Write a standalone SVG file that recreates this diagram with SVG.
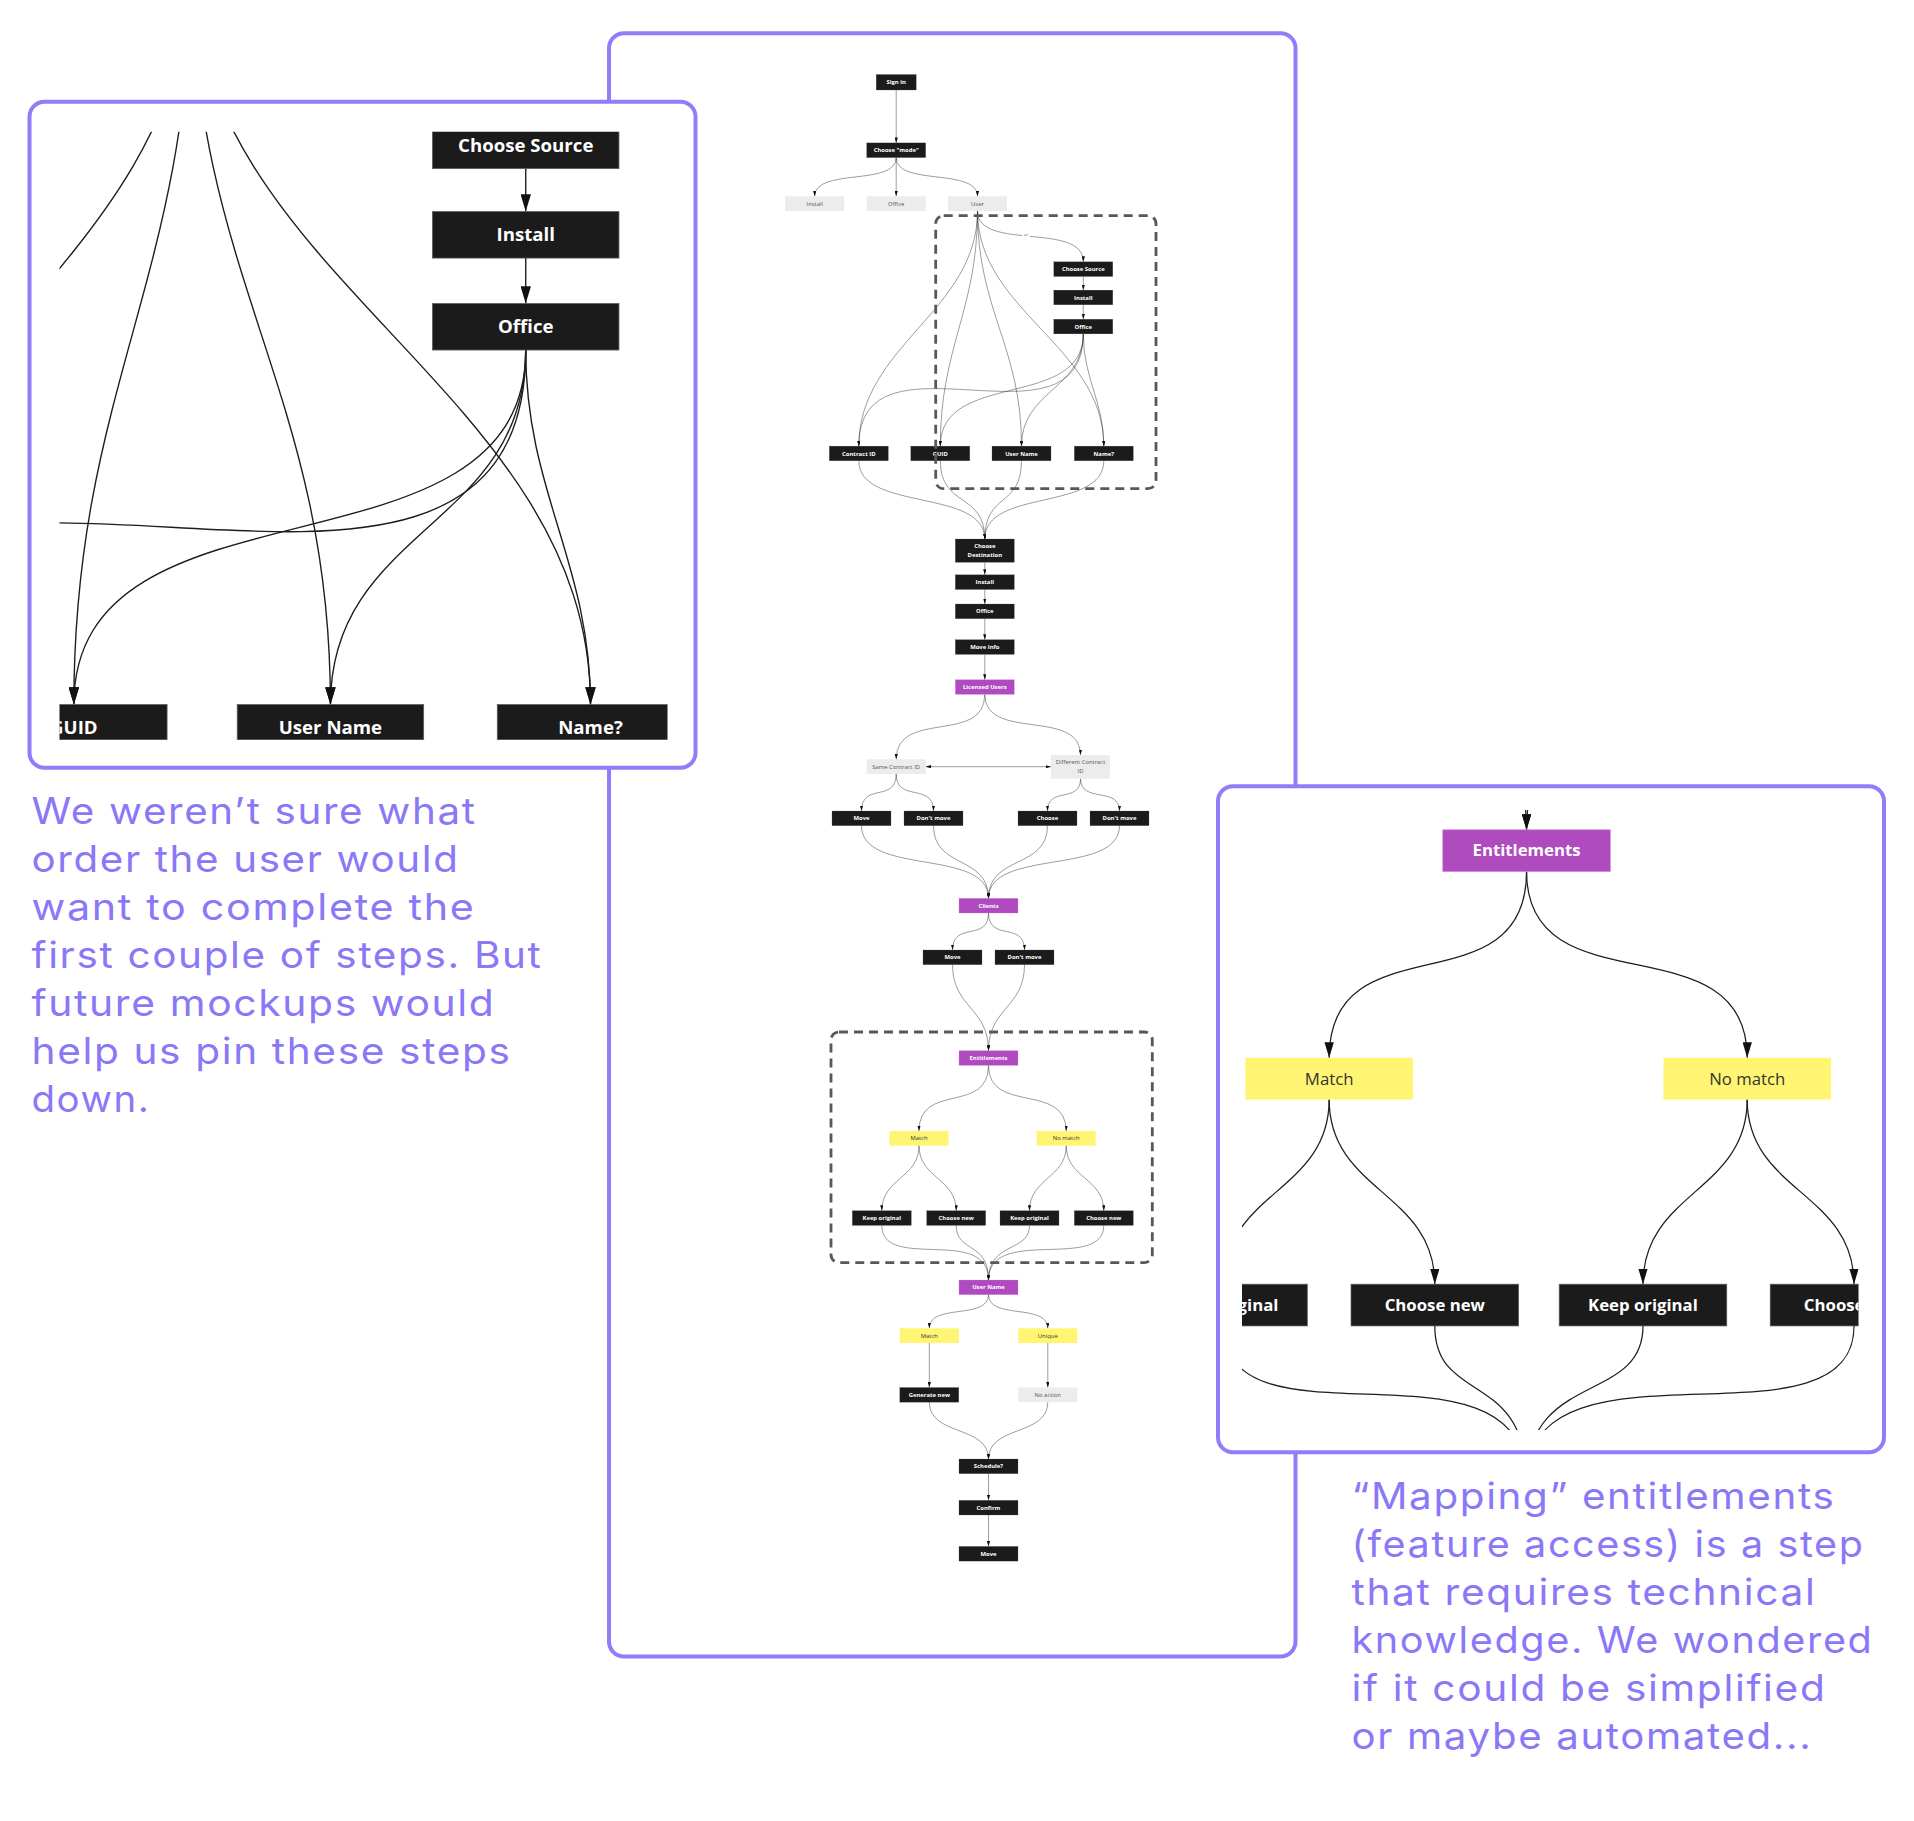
<svg xmlns="http://www.w3.org/2000/svg" xmlns:xlink="http://www.w3.org/1999/xlink" width="1914" height="1821" viewBox="0 0 1914 1821">
<style>
.panel{fill:#fff;stroke:#8f7df9;stroke-width:4}
.dash{fill:none;stroke:#585858;stroke-width:2.8;stroke-dasharray:9 6}
.cn{fill:none;stroke:#1e1e1e;stroke-width:0.44;marker-end:url(#ah)}
.dk{fill:#1b1b1b;stroke:#5a5a5a;stroke-width:0.25}
.gy{fill:#ececec}
.yl{fill:#fff572}
.pu{fill:#af4bbf;stroke:#cf8add;stroke-width:0.25}
text.tw{font-family:"Open Sans","Liberation Sans",sans-serif;font-size:5.9px;font-weight:700;fill:#fff;text-anchor:middle}
text.tg{font-family:"Open Sans","Liberation Sans",sans-serif;font-size:5.9px;font-weight:400;fill:#555;text-anchor:middle}
text.ty{font-family:"Open Sans","Liberation Sans",sans-serif;font-size:5.9px;font-weight:400;fill:#333;text-anchor:middle}
text.note{font-family:Inter,"Open Sans","Liberation Sans",sans-serif;font-size:37px;font-weight:400;fill:#8a78f7;letter-spacing:1.5px}
</style>
<defs>
<marker id="ah" viewBox="0 0 10 6" refX="10" refY="3" markerWidth="5.5" markerHeight="3.3" markerUnits="userSpaceOnUse" orient="auto-start-reverse"><path d="M0,0L10,3L0,6z" fill="#111"/></marker>
<clipPath id="clipL"><rect x="59.5" y="131.7" width="608" height="608"/></clipPath>
<clipPath id="clipR"><rect x="1242" y="810" width="616.5" height="620"/></clipPath>
</defs>
<rect width="1914" height="1821" fill="#fff"/>

<rect id="panel-center" class="panel" x="609" y="33.3" width="686.5" height="1623.2" rx="15"/>

<g id="chart">
<g id="connectors">
<path class="cn" d="M896.2,90 V142.9"/>
<path class="cn" d="M896.2,157.6 C896.2,186.6 814.7,167.3 814.7,196.3"/>
<path class="cn" d="M896.2,157.6 V196.3"/>
<path class="cn" d="M896.2,157.6 C896.2,186.6 977.5,167.3 977.5,196.3"/>
<path class="cn" d="M977.5,211 C977.5,251.6 1083.3,221.2 1083.3,261.8"/>
<path class="cn" d="M977.5,211 C977.5,311 858.8,346.1 858.8,446.1"/>
<path class="cn" d="M977.5,211 C977.5,311 940.3,346.1 940.3,446.1"/>
<path class="cn" d="M977.5,211 C977.5,311 1021.5,346.1 1021.5,446.1"/>
<path class="cn" d="M977.5,211 C977.5,311 1103.8,346.1 1103.8,446.1"/>
<path class="cn" d="M1083.3,276.5 V290.1"/>
<path class="cn" d="M1083.3,304.8 V319.2"/>
<path class="cn" d="M1083.3,333.9 C1083.3,458.9 858.8,321.1 858.8,446.1"/>
<path class="cn" d="M1083.3,333.9 C1083.3,410.2 940.3,369.8 940.3,446.1"/>
<path class="cn" d="M1083.3,333.9 C1083.3,390 1021.5,390 1021.5,446.1"/>
<path class="cn" d="M1083.3,333.9 C1083.3,379 1103.8,401 1103.8,446.1"/>
<path class="cn" d="M858.8,460.8 C858.8,511.8 984.8,488 984.8,539"/>
<path class="cn" d="M940.3,460.8 C940.3,507.8 984.8,492 984.8,539"/>
<path class="cn" d="M1021.5,460.8 C1021.5,507.8 984.8,492 984.8,539"/>
<path class="cn" d="M1103.8,460.8 C1103.8,511.8 984.8,488 984.8,539"/>
<path class="cn" d="M984.8,562.3 V574.8"/>
<path class="cn" d="M984.8,589.5 V604"/>
<path class="cn" d="M984.8,618.7 V639.7"/>
<path class="cn" d="M984.8,654.4 V679.7"/>
<path class="cn" d="M984.8,694.4 C984.8,745 896.2,708.7 896.2,759.3"/>
<path class="cn" d="M984.8,694.4 C984.8,742 1080.5,707.4 1080.5,755"/>
<path class="cn" d="M925.7,766.7 H1051" marker-start="url(#ah)"/>
<path class="cn" d="M896.2,774 C896.2,803 861.5,782 861.5,811"/>
<path class="cn" d="M896.2,774 C896.2,803 933.5,782 933.5,811"/>
<path class="cn" d="M1080.5,778.7 C1080.5,803.7 1047.5,786 1047.5,811"/>
<path class="cn" d="M1080.5,778.7 C1080.5,803.7 1119.5,786 1119.5,811"/>
<path class="cn" d="M861.5,825.7 C861.5,876.5 988.5,847.5 988.5,898.3"/>
<path class="cn" d="M933.5,825.7 C933.5,869.3 988.5,854.7 988.5,898.3"/>
<path class="cn" d="M1047.5,825.7 C1047.5,869.3 988.5,854.7 988.5,898.3"/>
<path class="cn" d="M1119.5,825.7 C1119.5,876.5 988.5,847.5 988.5,898.3"/>
<path class="cn" d="M988.5,913 C988.5,942 952.5,921 952.5,950"/>
<path class="cn" d="M988.5,913 C988.5,942 1024.5,921 1024.5,950"/>
<path class="cn" d="M952.5,964.7 C952.5,1007.7 988.5,1007.7 988.5,1050.7"/>
<path class="cn" d="M1024.5,964.7 C1024.5,1007.7 988.5,1007.7 988.5,1050.7"/>
<path class="cn" d="M988.5,1065.4 C988.5,1114.6 919,1081.8 919,1131"/>
<path class="cn" d="M988.5,1065.4 C988.5,1114.6 1066.2,1081.8 1066.2,1131"/>
<path class="cn" d="M919,1145.7 C919,1178.2 881.8,1178.2 881.8,1210.7"/>
<path class="cn" d="M919,1145.7 C919,1178.2 956.2,1178.2 956.2,1210.7"/>
<path class="cn" d="M1066.2,1145.7 C1066.2,1178.2 1029.5,1178.2 1029.5,1210.7"/>
<path class="cn" d="M1066.2,1145.7 C1066.2,1178.2 1103.8,1178.2 1103.8,1210.7"/>
<path class="cn" d="M881.8,1225.4 C881.8,1272 988.5,1225 988.5,1280"/>
<path class="cn" d="M956.2,1225.4 C956.2,1253 988.5,1241 988.5,1280"/>
<path class="cn" d="M1029.5,1225.4 C1029.5,1253 988.5,1241 988.5,1280"/>
<path class="cn" d="M1103.8,1225.4 C1103.8,1272 988.5,1225 988.5,1280"/>
<path class="cn" d="M988.5,1294.7 C988.5,1320.2 929.3,1302.8 929.3,1328.3"/>
<path class="cn" d="M988.5,1294.7 C988.5,1320.2 1047.8,1302.8 1047.8,1328.3"/>
<path class="cn" d="M929.3,1343 V1387.5"/>
<path class="cn" d="M1047.8,1343 V1387.5"/>
<path class="cn" d="M929.3,1402.2 C929.3,1436.2 988.5,1425 988.5,1459"/>
<path class="cn" d="M1047.8,1402.2 C1047.8,1436.2 988.5,1425 988.5,1459"/>
<path class="cn" d="M988.5,1473.7 V1500.3"/>
<path class="cn" d="M988.5,1515 V1546.4"/>
<g id="label-or"><rect x="1022.3" y="232.6" width="7.4" height="4.8" fill="#fff"/><text class="tg" x="1026" y="236.4" style="font-size:4.2px">or</text></g>
</g>
<g id="nodes">
<g id="n-signin"><rect class="dk" x="876.2" y="74.5" width="40" height="15.5"/><text class="tw" x="896.2" y="84.3">Sign in</text></g>
<g id="n-mode"><rect class="dk" x="866.7" y="142.9" width="59" height="14.7"/><text class="tw" x="896.2" y="152.3">Choose "mode"</text></g>
<g id="n-install0"><rect class="gy" x="785.2" y="196.3" width="59" height="14.7"/><text class="tg" x="814.7" y="205.7">Install</text></g>
<g id="n-office0"><rect class="gy" x="866.7" y="196.3" width="59" height="14.7"/><text class="tg" x="896.2" y="205.7">Office</text></g>
<g id="n-user0"><rect class="gy" x="948" y="196.3" width="59" height="14.7"/><text class="tg" x="977.5" y="205.7">User</text></g>
<g id="n-source"><rect class="dk" x="1053.8" y="261.8" width="59" height="14.7"/><text class="tw" x="1083.3" y="271.2">Choose Source</text></g>
<g id="n-install1"><rect class="dk" x="1053.8" y="290.1" width="59" height="14.7"/><text class="tw" x="1083.3" y="299.5">Install</text></g>
<g id="n-office1"><rect class="dk" x="1053.8" y="319.2" width="59" height="14.7"/><text class="tw" x="1083.3" y="328.6">Office</text></g>
<g id="n-contract"><rect class="dk" x="829.3" y="446.1" width="59" height="14.7"/><text class="tw" x="858.8" y="455.5">Contract ID</text></g>
<g id="n-guid"><rect class="dk" x="910.8" y="446.1" width="59" height="14.7"/><text class="tw" x="940.3" y="455.5">GUID</text></g>
<g id="n-username"><rect class="dk" x="992" y="446.1" width="59" height="14.7"/><text class="tw" x="1021.5" y="455.5">User Name</text></g>
<g id="n-name"><rect class="dk" x="1074.3" y="446.1" width="59" height="14.7"/><text class="tw" x="1103.8" y="455.5">Name?</text></g>
<g id="n-dest"><rect class="dk" x="955.3" y="539" width="59" height="23.3"/><text class="tw" x="984.8" y="548.4">Choose</text><text class="tw" x="984.8" y="556.8">Destination</text></g>
<g id="n-install2"><rect class="dk" x="955.3" y="574.8" width="59" height="14.7"/><text class="tw" x="984.8" y="584.2">Install</text></g>
<g id="n-office2"><rect class="dk" x="955.3" y="604" width="59" height="14.7"/><text class="tw" x="984.8" y="613.4">Office</text></g>
<g id="n-moveinfo"><rect class="dk" x="955.3" y="639.7" width="59" height="14.7"/><text class="tw" x="984.8" y="649.1">Move Info</text></g>
<g id="n-licensed"><rect class="pu" x="955.3" y="679.7" width="59" height="14.7"/><text class="tw" x="984.8" y="689.1">Licensed Users</text></g>
<g id="n-same"><rect class="gy" x="866.7" y="759.3" width="59" height="14.7"/><text class="tg" x="896.2" y="768.7">Same Contract ID</text></g>
<g id="n-diff"><rect class="gy" x="1051" y="755" width="59" height="23.7"/><text class="tg" x="1080.5" y="764.4">Different Contract</text><text class="tg" x="1080.5" y="773.1">ID</text></g>
<g id="n-move1"><rect class="dk" x="832" y="811" width="59" height="14.7"/><text class="tw" x="861.5" y="820.4">Move</text></g>
<g id="n-dontmove1"><rect class="dk" x="904" y="811" width="59" height="14.7"/><text class="tw" x="933.5" y="820.4">Don't move</text></g>
<g id="n-choose"><rect class="dk" x="1018" y="811" width="59" height="14.7"/><text class="tw" x="1047.5" y="820.4">Choose</text></g>
<g id="n-dontmove2"><rect class="dk" x="1090" y="811" width="59" height="14.7"/><text class="tw" x="1119.5" y="820.4">Don't move</text></g>
<g id="n-clients"><rect class="pu" x="959" y="898.3" width="59" height="14.7"/><text class="tw" x="988.5" y="907.7">Clients</text></g>
<g id="n-move2"><rect class="dk" x="923" y="950" width="59" height="14.7"/><text class="tw" x="952.5" y="959.4">Move</text></g>
<g id="n-dontmove3"><rect class="dk" x="995" y="950" width="59" height="14.7"/><text class="tw" x="1024.5" y="959.4">Don't move</text></g>
<g id="n-entitlements"><rect class="pu" x="959" y="1050.7" width="59" height="14.7"/><text class="tw" x="988.5" y="1060.1">Entitlements</text></g>
<g id="n-match1"><rect class="yl" x="889.5" y="1131" width="59" height="14.7"/><text class="ty" x="919" y="1140.4">Match</text></g>
<g id="n-nomatch"><rect class="yl" x="1036.7" y="1131" width="59" height="14.7"/><text class="ty" x="1066.2" y="1140.4">No match</text></g>
<g id="n-keep1"><rect class="dk" x="852.3" y="1210.7" width="59" height="14.7"/><text class="tw" x="881.8" y="1220.1">Keep original</text></g>
<g id="n-new1"><rect class="dk" x="926.7" y="1210.7" width="59" height="14.7"/><text class="tw" x="956.2" y="1220.1">Choose new</text></g>
<g id="n-keep2"><rect class="dk" x="1000" y="1210.7" width="59" height="14.7"/><text class="tw" x="1029.5" y="1220.1">Keep original</text></g>
<g id="n-new2"><rect class="dk" x="1074.3" y="1210.7" width="59" height="14.7"/><text class="tw" x="1103.8" y="1220.1">Choose new</text></g>
<g id="n-username2"><rect class="pu" x="959" y="1280" width="59" height="14.7"/><text class="tw" x="988.5" y="1289.4">User Name</text></g>
<g id="n-match2"><rect class="yl" x="899.8" y="1328.3" width="59" height="14.7"/><text class="ty" x="929.3" y="1337.7">Match</text></g>
<g id="n-unique"><rect class="yl" x="1018.3" y="1328.3" width="59" height="14.7"/><text class="ty" x="1047.8" y="1337.7">Unique</text></g>
<g id="n-generate"><rect class="dk" x="899.8" y="1387.5" width="59" height="14.7"/><text class="tw" x="929.3" y="1396.9">Generate new</text></g>
<g id="n-noaction"><rect class="gy" x="1018.3" y="1387.5" width="59" height="14.7"/><text class="tg" x="1047.8" y="1396.9">No action</text></g>
<g id="n-schedule"><rect class="dk" x="959" y="1459" width="59" height="14.7"/><text class="tw" x="988.5" y="1468.4">Schedule?</text></g>
<g id="n-confirm"><rect class="dk" x="959" y="1500.3" width="59" height="14.7"/><text class="tw" x="988.5" y="1509.7">Confirm</text></g>
<g id="n-move3"><rect class="dk" x="959" y="1546.4" width="59" height="14.7"/><text class="tw" x="988.5" y="1555.8">Move</text></g>
</g>
</g>

<g id="groups-dashed">
<rect class="dash" x="935.7" y="215.7" width="220.3" height="273" rx="8"/>
<rect class="dash" x="831" y="1032" width="321.3" height="230.7" rx="8"/>
</g>

<g id="zoom-left">
<rect class="panel" x="29.5" y="101.7" width="666" height="666" rx="15"/>
<g clip-path="url(#clipL)"><use xlink:href="#chart" href="#chart" transform="translate(-2897.5,-705.1) scale(3.16)"/></g>
</g>

<g id="zoom-right">
<rect class="panel" x="1218" y="786.3" width="666" height="666" rx="15"/>
<g clip-path="url(#clipR)"><use xlink:href="#chart" href="#chart" transform="translate(-1280.8,-2154.2) scale(2.84)"/></g>
</g>

<g id="note-left">
<text class="note" x="31.5" y="824.3" textLength="445" lengthAdjust="spacingAndGlyphs">We weren’t sure what</text>
<text class="note" x="31.5" y="872.3" textLength="428" lengthAdjust="spacingAndGlyphs">order the user would</text>
<text class="note" x="31.5" y="920.3" textLength="444" lengthAdjust="spacingAndGlyphs">want to complete the</text>
<text class="note" x="31.5" y="968.3" textLength="511" lengthAdjust="spacingAndGlyphs">first couple of steps. But</text>
<text class="note" x="31.5" y="1016.3" textLength="464" lengthAdjust="spacingAndGlyphs">future mockups would</text>
<text class="note" x="31.5" y="1064.3" textLength="480" lengthAdjust="spacingAndGlyphs">help us pin these steps</text>
<text class="note" x="31.5" y="1112.3" textLength="119" lengthAdjust="spacingAndGlyphs">down.</text>
</g>

<g id="note-right">
<text class="note" x="1351.5" y="1509.3" textLength="484" lengthAdjust="spacingAndGlyphs">“Mapping” entitlements</text>
<text class="note" x="1351.5" y="1557.3" textLength="513" lengthAdjust="spacingAndGlyphs">(feature access) is a step</text>
<text class="note" x="1351.5" y="1605.3" textLength="465" lengthAdjust="spacingAndGlyphs">that requires technical</text>
<text class="note" x="1351.5" y="1653.3" textLength="522" lengthAdjust="spacingAndGlyphs">knowledge. We wondered</text>
<text class="note" x="1351.5" y="1701.3" textLength="475" lengthAdjust="spacingAndGlyphs">if it could be simplified</text>
<text class="note" x="1351.5" y="1749.3" textLength="461" lengthAdjust="spacingAndGlyphs">or maybe automated...</text>
</g>
</svg>
